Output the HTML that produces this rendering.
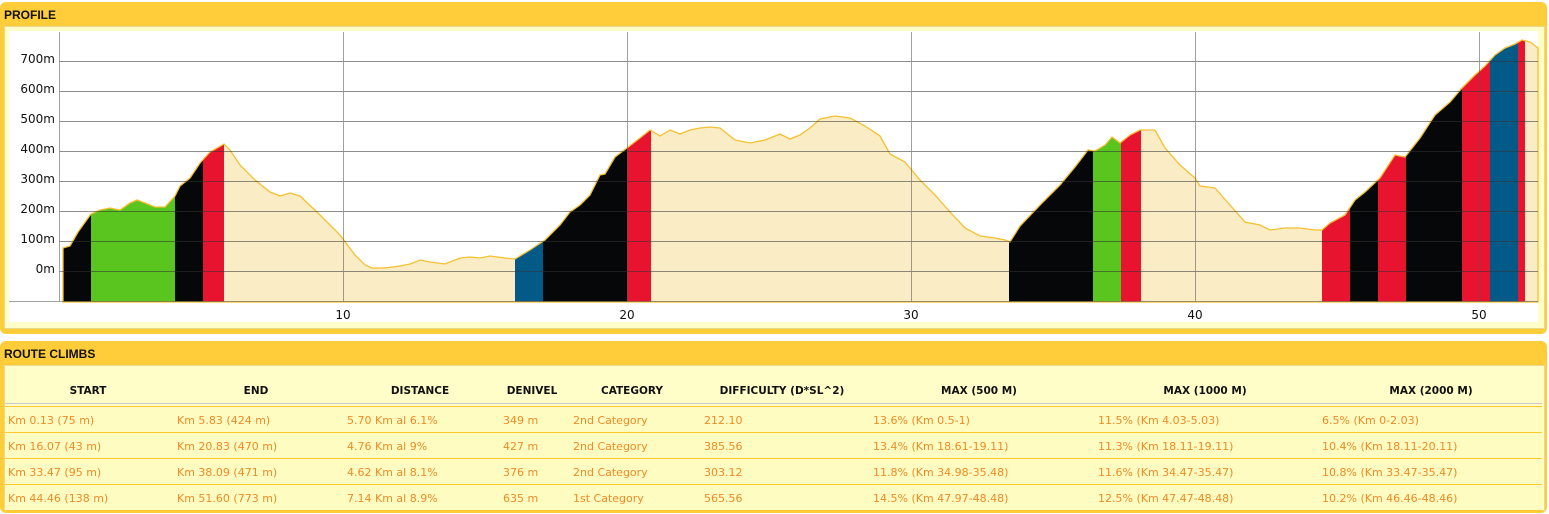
<!DOCTYPE html>
<html><head><meta charset="utf-8"><style>
body{margin:0;width:1549px;height:514px;background:#fff;font-family:"Liberation Sans",Verdana,sans-serif;position:relative;overflow:hidden}
.panel{position:absolute;left:0;width:1547px;background:#ffcc3a;border-radius:6px}
.hd{position:absolute;left:4px;font-size:12px;font-weight:bold;color:#111}
.inner{position:absolute;left:4px;right:4px;background:#fffdc8;border:1px solid #e8d890}
.th{position:absolute;top:385px;font-family:"DejaVu Sans",sans-serif;font-size:10.5px;font-weight:bold;color:#111;text-align:center;transform:translateX(-50%);white-space:nowrap}
.row{position:absolute;left:5px;width:1537px;height:25px;background:#fffcc2;border-top:1px solid #ffc830}
.c{position:absolute;top:7px;font-family:"DejaVu Sans",sans-serif;font-size:11px;color:#f08a25;white-space:nowrap}
</style></head><body>
<div class="panel" style="top:2px;height:332px"></div>
<div class="hd" style="top:8px">PROFILE</div>
<div class="inner" style="top:26px;height:301px"></div>
<div style="position:absolute;left:9px;top:31px;width:1529px;height:291px;background:#fff"></div>
<svg style="position:absolute;left:0;top:0" width="1549" height="340" viewBox="0 0 1549 340">
<defs><clipPath id="cp"><polygon id="pp" points="63,302 63,248 70,246 78,232 88,218 91,214 100,210 110,208 120,210 130,203 137,200 145,203 155,207 165,207 175,196 180,186 190,178 200,163 210,152 224,144 230,150 240,165 255,180 270,192 280,196 290,193 300,196 320,215 340,235 355,255 365,265 372,268 385,268 400,266 410,264 420,260 430,262 445,264 460,258 470,257 480,258 490,256 505,258 515,259 530,250 545,240 560,225 570,212 580,205 590,195 600,175 605,174 615,157 627,148 640,138 650,130 660,136 670,130 680,134 690,130 700,128 710,127 720,128 735,140 750,143 765,140 780,134 790,139 800,135 810,128 820,119 835,116 850,118 865,126 880,136 890,154 905,162 920,180 935,195 950,212 965,228 980,236 995,238 1005,240 1010,242 1020,226 1040,205 1060,185 1075,167 1088,150 1095,151 1105,145 1112,137 1120,143 1130,135 1140,130 1155,130 1165,148 1180,165 1195,178 1200,186 1215,188 1230,205 1245,222 1260,225 1270,230 1285,228 1300,228 1315,230 1322,230 1330,223 1345,215 1355,200 1365,192 1380,178 1395,155 1405,157 1420,138 1435,115 1450,102 1462,88 1475,75 1485,66 1495,55 1505,48 1515,44 1522,40 1530,42 1538,48 1538,302"/></clipPath></defs>
<g fill="#faecc4" clip-path="url(#cp)"><rect x="0" y="0" width="1549" height="302"/>
<rect x="63" y="0" width="28" height="302" fill="#060708"/><rect x="91" y="0" width="84" height="302" fill="#5ac51f"/><rect x="175" y="0" width="28" height="302" fill="#060708"/><rect x="203" y="0" width="21" height="302" fill="#e8132f"/>
<rect x="515" y="0" width="28" height="302" fill="#035a87"/><rect x="543" y="0" width="84" height="302" fill="#060708"/><rect x="627" y="0" width="24" height="302" fill="#e8132f"/>
<rect x="1009" y="0" width="84" height="302" fill="#060708"/><rect x="1093" y="0" width="28" height="302" fill="#5ac51f"/><rect x="1121" y="0" width="20" height="302" fill="#e8132f"/>
<rect x="1322" y="0" width="28" height="302" fill="#e8132f"/><rect x="1350" y="0" width="28" height="302" fill="#060708"/><rect x="1378" y="0" width="28" height="302" fill="#e8132f"/><rect x="1406" y="0" width="56" height="302" fill="#060708"/><rect x="1462" y="0" width="28" height="302" fill="#e8132f"/><rect x="1490" y="0" width="28" height="302" fill="#035a87"/><rect x="1518" y="0" width="7" height="302" fill="#e8132f"/>
</g>
<use href="#pp" fill="none" stroke="#f5c030" stroke-width="1.3"/>
<g stroke="#555" stroke-width="1" opacity="0.55">
<line x1="59.5" y1="32" x2="59.5" y2="302"/><line x1="343.5" y1="32" x2="343.5" y2="302"/><line x1="627.5" y1="32" x2="627.5" y2="302"/><line x1="911.5" y1="32" x2="911.5" y2="302"/><line x1="1195.5" y1="32" x2="1195.5" y2="302"/><line x1="1479.5" y1="32" x2="1479.5" y2="302"/>
<line x1="9" y1="301.5" x2="1538" y2="301.5"/>
<g stroke="#333"><line x1="59" y1="61.5" x2="1538" y2="61.5"/><line x1="59" y1="91.5" x2="1538" y2="91.5"/><line x1="59" y1="121.5" x2="1538" y2="121.5"/><line x1="59" y1="151.5" x2="1538" y2="151.5"/><line x1="59" y1="181.5" x2="1538" y2="181.5"/><line x1="59" y1="211.5" x2="1538" y2="211.5"/><line x1="59" y1="241.5" x2="1538" y2="241.5"/><line x1="59" y1="271.5" x2="1538" y2="271.5"/></g>
</g>
<g font-size="12" fill="#111" text-anchor="end" font-family="DejaVu Sans,sans-serif">
<text x="55" y="63">700m</text><text x="55" y="93">600m</text><text x="55" y="123">500m</text><text x="55" y="153">400m</text><text x="55" y="183">300m</text><text x="55" y="213">200m</text><text x="55" y="243">100m</text><text x="55" y="273">0m</text>
</g>
<g font-size="12" fill="#111" text-anchor="middle" font-family="DejaVu Sans,sans-serif">
<text x="343" y="319">10</text><text x="627" y="319">20</text><text x="911" y="319">30</text><text x="1195" y="319">40</text><text x="1479" y="319">50</text>
</g>
</svg>

<div class="panel" style="top:341px;height:172px"></div>
<div class="hd" style="top:347px">ROUTE CLIMBS</div>
<div class="inner" style="top:365px;height:144px"></div>
<div style="position:absolute;left:5px;top:403px;width:1537px;border-top:1px solid #c8c8c8"></div>
<div class="th" style="left:88px">START</div><div class="th" style="left:256px">END</div><div class="th" style="left:420px">DISTANCE</div><div class="th" style="left:532px">DENIVEL</div><div class="th" style="left:632px">CATEGORY</div><div class="th" style="left:782px">DIFFICULTY (D*SL^2)</div><div class="th" style="left:979px">MAX (500 M)</div><div class="th" style="left:1205px">MAX (1000 M)</div><div class="th" style="left:1431px">MAX (2000 M)</div>

<div class="row" style="top:406px"><span class="c" style="left:3px">Km 0.13 (75 m)</span><span class="c" style="left:172px">Km 5.83 (424 m)</span><span class="c" style="left:342px">5.70 Km al 6.1%</span><span class="c" style="left:498px">349 m</span><span class="c" style="left:568px">2nd Category</span><span class="c" style="left:699px">212.10</span><span class="c" style="left:868px">13.6% (Km 0.5-1)</span><span class="c" style="left:1093px">11.5% (Km 4.03-5.03)</span><span class="c" style="left:1317px">6.5% (Km 0-2.03)</span></div>
<div class="row" style="top:432px"><span class="c" style="left:3px">Km 16.07 (43 m)</span><span class="c" style="left:172px">Km 20.83 (470 m)</span><span class="c" style="left:342px">4.76 Km al 9%</span><span class="c" style="left:498px">427 m</span><span class="c" style="left:568px">2nd Category</span><span class="c" style="left:699px">385.56</span><span class="c" style="left:868px">13.4% (Km 18.61-19.11)</span><span class="c" style="left:1093px">11.3% (Km 18.11-19.11)</span><span class="c" style="left:1317px">10.4% (Km 18.11-20.11)</span></div>
<div class="row" style="top:458px"><span class="c" style="left:3px">Km 33.47 (95 m)</span><span class="c" style="left:172px">Km 38.09 (471 m)</span><span class="c" style="left:342px">4.62 Km al 8.1%</span><span class="c" style="left:498px">376 m</span><span class="c" style="left:568px">2nd Category</span><span class="c" style="left:699px">303.12</span><span class="c" style="left:868px">11.8% (Km 34.98-35.48)</span><span class="c" style="left:1093px">11.6% (Km 34.47-35.47)</span><span class="c" style="left:1317px">10.8% (Km 33.47-35.47)</span></div>
<div class="row" style="top:484px;border-bottom:1px solid #ffc830"><span class="c" style="left:3px">Km 44.46 (138 m)</span><span class="c" style="left:172px">Km 51.60 (773 m)</span><span class="c" style="left:342px">7.14 Km al 8.9%</span><span class="c" style="left:498px">635 m</span><span class="c" style="left:568px">1st Category</span><span class="c" style="left:699px">565.56</span><span class="c" style="left:868px">14.5% (Km 47.97-48.48)</span><span class="c" style="left:1093px">12.5% (Km 47.47-48.48)</span><span class="c" style="left:1317px">10.2% (Km 46.46-48.46)</span></div>
</body></html>
